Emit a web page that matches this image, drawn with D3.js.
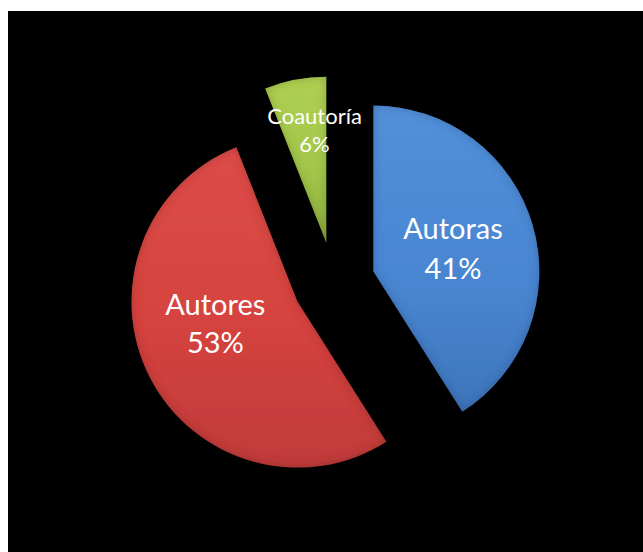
<!DOCTYPE html>
<html>
<head>
<meta charset="utf-8">
<script src="https://cdn.jsdelivr.net/npm/d3@7/dist/d3.min.js"></script>
<style>
  html, body { margin: 0; padding: 0; background: #ffffff; }
  svg { display: block; }
</style>
</head>
<body>
<script>
// ---- data ----
const categories = ["Autoras", "Autores", "Coautoría"];
const values = [41, 53, 6];
const percentLabels = ["41%", "53%", "6%"];
const colors = ["#4a86d2", "#d5433f", "#a3c64a"];
const lightColors = ["#5290d9", "#dc4c48", "#aecf52"];
const darkColors = ["#3f75bb", "#bf3b3a", "#8fb03e"];

const W = 643, H = 552;
const svg = d3.select("body").append("svg").attr("width", W).attr("height", H);

svg.append("rect").attr("x", 0).attr("y", 0).attr("width", W).attr("height", H).attr("fill", "#ffffff");
svg.append("rect").attr("x", 8).attr("y", 11).attr("width", W - 8).attr("height", H - 11).attr("fill", "#000000");

const defs = svg.append("defs");
const filt = defs.append("filter").attr("id", "bevel").attr("x", "-10%").attr("y", "-10%").attr("width", "120%").attr("height", "120%");
filt.append("feGaussianBlur").attr("in", "SourceAlpha").attr("stdDeviation", 5).attr("result", "blur");
filt.append("feComposite").attr("in", "SourceAlpha").attr("in2", "blur").attr("operator", "arithmetic")
  .attr("k1", 0).attr("k2", 1).attr("k3", -1).attr("k4", 0).attr("result", "edge");
filt.append("feFlood").attr("flood-color", "#000").attr("flood-opacity", 0.4).attr("result", "flood");
filt.append("feComposite").attr("in", "flood").attr("in2", "edge").attr("operator", "in").attr("result", "shade");
const merge = filt.append("feMerge");
merge.append("feMergeNode").attr("in", "SourceGraphic");
merge.append("feMergeNode").attr("in", "shade");

categories.forEach((c, i) => {
  const g = defs.append("linearGradient").attr("id", "grad" + i)
    .attr("x1", 0).attr("y1", 0).attr("x2", 0).attr("y2", 1);
  g.append("stop").attr("offset", "0%").attr("stop-color", lightColors[i]);
  g.append("stop").attr("offset", "55%").attr("stop-color", colors[i]);
  g.append("stop").attr("offset", "100%").attr("stop-color", darkColors[i]);
});

const cx = 334, cy = 283, R = 166, explode = 41;

const pie = d3.pie().sort(null).value(d => d)(values);
const arc = d3.arc().innerRadius(0).outerRadius(R);

// label placement: polar offset (angle in degrees from top, radius) relative to slice apex
const labelPolar = [null, { a: 255, r: 85 }, { a: 354, r: 113 }];
const fontSizes = [29, 29, 22];
const lineGaps = [40, 38, 28];

const slices = svg.append("g").attr("transform", `translate(${cx},${cy})`);

pie.forEach((p, i) => {
  const mid = (p.startAngle + p.endAngle) / 2;
  const dx = Math.sin(mid) * explode, dy = -Math.cos(mid) * explode;
  const g = slices.append("g").attr("transform", `translate(${dx},${dy})`);
  g.append("path").attr("d", arc(p)).attr("fill", `url(#grad${i})`).attr("filter", "url(#bevel)");

  let la, lr;
  if (labelPolar[i]) { la = labelPolar[i].a * Math.PI / 180; lr = labelPolar[i].r; }
  else { la = mid; lr = R * 0.5; }
  const lx = Math.sin(la) * lr, ly = -Math.cos(la) * lr;
  const fs = fontSizes[i], gap = lineGaps[i];
  const t = g.append("text").attr("text-anchor", "middle").attr("fill", "#ffffff")
    .attr("font-family", "Lato, 'Open Sans', sans-serif").attr("font-size", fs);
  t.append("tspan").attr("x", lx).attr("y", ly - gap / 2 + fs * 0.36).text(categories[i]);
  t.append("tspan").attr("x", lx).attr("y", ly + gap / 2 + fs * 0.36).text(percentLabels[i]);
});
</script>
</body>
</html>
